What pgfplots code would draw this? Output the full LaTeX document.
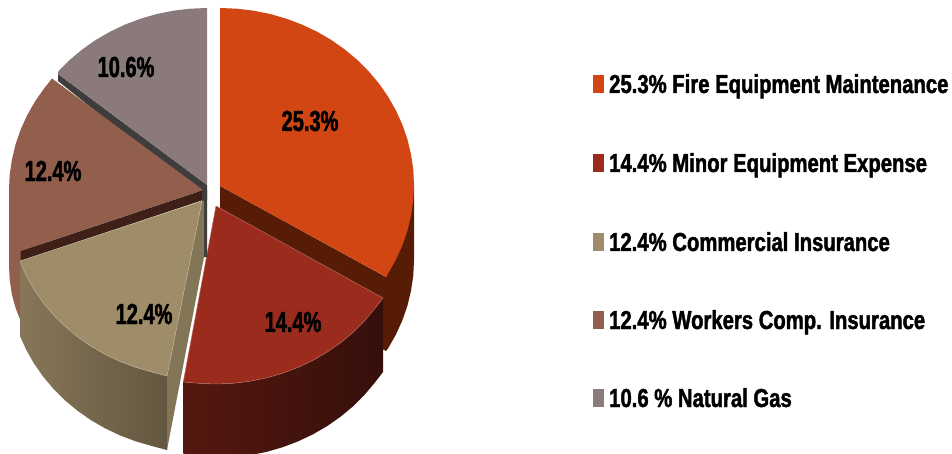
\documentclass[border=0pt]{standalone}
\usepackage{pgfplots}
\pgfplotsset{compat=1.18}
\usepackage{fontspec}
\setmainfont[FakeStretch=0.78,BoldFeatures={FakeBold=1.6}]{Liberation Sans}
\newfontfamily\slicefont[FakeStretch=0.69,BoldFeatures={FakeBold=1.6}]{Liberation Sans}
\definecolor{cOr}{HTML}{D14613}
\definecolor{cOrD}{HTML}{561C05}
\definecolor{cRe}{HTML}{9A2B1D}
\definecolor{cTa}{HTML}{9F8C68}
\definecolor{cTaS}{HTML}{827656}
\definecolor{cBr}{HTML}{925F4D}
\definecolor{cBrB}{HTML}{3F2018}
\definecolor{cGr}{HTML}{8A7A7C}
\definecolor{cGrB}{HTML}{3F3C3E}
\tikzset{lab/.style={font=\fontsize{26}{26}\selectfont\bfseries, text=black, inner sep=0pt},
  slab/.style={font=\slicefont\fontsize{29}{29}\selectfont\bfseries, text=black, inner sep=0pt}}
\begin{document}
\begin{tikzpicture}
\path[use as bounding box] (0,0) rectangle (952pt,454pt);
\begin{axis}[
  at={(0,0)}, anchor=south west,
  scale only axis, width=952pt, height=454pt,
  xmin=0, xmax=952, ymin=0, ymax=454, y dir=reverse,
  hide axis, clip=true,
  every axis plot/.append style={line join=round},
]
% orange walls
\addplot[fill=cOrD, draw=none] coordinates {(414,185)(414,260)(413.3,275.4)(411,290.7)(407.4,305.8)(402.3,320.5)(395.8,334.8)(388,348.5)(386,351)(386,277)} -- cycle;
\addplot[fill=cOrD, draw=none] coordinates {(220,186)(386,277)(386,351)(220,260)} -- cycle;
% orange top
\addplot[fill=cOr, draw=none] coordinates {(220,8)(236.9,8.7)(253.7,10.7)(270.2,14)(286.4,18.7)(302,24.6)(317,31.7)(331.3,40)(344.7,49.4)(357.2,59.8)(368.6,71.2)(378.9,83.5)(388,96.5)(395.8,110.2)(402.3,124.5)(407.4,139.2)(411,154.3)(413.3,169.6)(414,185)(413.3,200.4)(411,215.7)(407.4,230.8)(402.3,245.5)(395.8,259.8)(388,273.5)(386.3,277)(220,186)} -- cycle;
% red wall and top
\addplot[left color=cRe!55!black, right color=cRe!35!black, draw=none] coordinates {(383,298)(374.9,308.5)(364.6,320.8)(353.2,332.2)(340.7,342.6)(327.3,352)(313,360.3)(298,367.4)(282.4,373.3)(266.2,378)(249.7,381.3)(232.9,383.3)(216,384)(199.1,383.3)(183.3,382)(183.3,456)(199.1,457.3)(216,458)(232.9,457.3)(249.7,455.3)(266.2,452)(282.4,447.3)(298,441.4)(313,434.3)(327.3,426)(340.7,416.6)(353.2,406.2)(364.6,394.8)(374.9,382.5)(383,372)} -- cycle;
\addplot[fill=cRe, draw=cRe!70!white, line width=0.5pt] coordinates {(216,206)(383,298)(374.9,308.5)(364.6,320.8)(353.2,332.2)(340.7,342.6)(327.3,352)(313,360.3)(298,367.4)(282.4,373.3)(266.2,378)(249.7,381.3)(232.9,383.3)(216,384)(199.1,383.3)(183.3,382)} -- cycle;
% brown wall
\addplot[fill=cBr, draw=none] coordinates {(9,190)(9,265)(9.7,280)(12,295)(15.6,308)(20.7,321)(40,321)(40,240)} -- cycle;
% band under gray
\addplot[fill=cGrB, draw=none] coordinates {(58,74)(207,185)(207,200)(58,81)} -- cycle;
% gray top
\addplot[fill=cGr, draw=none] coordinates {(207,8)(190.1,8.7)(173.3,10.7)(156.8,14)(140.6,18.7)(125,24.6)(110,31.7)(95.7,40)(82.3,49.4)(69.8,59.8)(58.4,71.2)(58,74)(207,185)} -- cycle;
% brown band and top
\addplot[fill=cBrB, draw=none] coordinates {(203,190)(20.7,251)(20.7,261)(203,200)} -- cycle;
\addplot[fill=cBr, draw=none] coordinates {(203,190)(52,78.5)(44.1,88.5)(35,101.5)(27.2,115.2)(20.7,129.5)(15.6,144.2)(12,159.3)(9.7,174.6)(9,190)(9.7,205.4)(12,220.7)(15.6,235.8)(20.7,251)} -- cycle;
% gray bar
\addplot[fill=cGrB, draw=none] coordinates {(202,190)(207,190)(207,257)(203,257)} -- cycle;
% tan wall
\addplot[left color=cTa!85!black, right color=cTa!62!black, draw=none] coordinates {(20,261)(26.2,275.8)(34,289.5)(43.1,302.5)(53.4,314.8)(64.8,326.2)(77.3,336.6)(90.7,346)(105,354.3)(120,361.4)(135.6,367.3)(151.8,372)(167,376)(167,450)(151.8,446)(135.6,441.3)(120,435.4)(105,428.3)(90.7,420)(77.3,410.6)(64.8,400.2)(53.4,388.8)(43.1,376.5)(34,363.5)(26.2,349.8)(20,336)} -- cycle;
% tan side
\addplot[fill=cTaS, draw=none] coordinates {(202,201)(204,201)(204,257)(167,450)(167,376)} -- cycle;
% tan top
\addplot[fill=cTa, draw=cTa!70!white, line width=0.5pt] coordinates {(202,201)(20,261)(26.2,275.8)(34,289.5)(43.1,302.5)(53.4,314.8)(64.8,326.2)(77.3,336.6)(90.7,346)(105,354.3)(120,361.4)(135.6,367.3)(151.8,372)(167,376)} -- cycle;
% legend swatches
\addplot[fill=cOr, draw=none] coordinates {(593,75)(604,75)(604,93)(593,93)} -- cycle;
\addplot[fill=cRe, draw=none] coordinates {(593,154)(604,154)(604,172)(593,172)} -- cycle;
\addplot[fill=cTa, draw=none] coordinates {(593,233)(604,233)(604,251)(593,251)} -- cycle;
\addplot[fill=cBr, draw=none] coordinates {(593,311)(604,311)(604,329)(593,329)} -- cycle;
\addplot[fill=cGr, draw=none] coordinates {(593,389)(604,389)(604,407)(593,407)} -- cycle;
% slice labels
\node[slab] at (axis cs:310,121) {25.3\%};
\node[slab] at (axis cs:293,322) {14.4\%};
\node[slab] at (axis cs:144,314) {12.4\%};
\node[slab] at (axis cs:53,171) {12.4\%};
\node[slab] at (axis cs:126,67) {10.6\%};
% legend text
\node[lab, anchor=base west] at (axis cs:609,93) {25.3\% Fire Equipment Maintenance};
\node[lab, anchor=base west] at (axis cs:609,172) {14.4\% Minor Equipment Expense};
\node[lab, anchor=base west] at (axis cs:609,251) {12.4\% Commercial Insurance};
\node[lab, anchor=base west] at (axis cs:609,329) {12.4\% Workers Comp. Insurance};
\node[lab, anchor=base west] at (axis cs:609,407) {10.6 \% Natural Gas};
\end{axis}
\end{tikzpicture}
\end{document}
